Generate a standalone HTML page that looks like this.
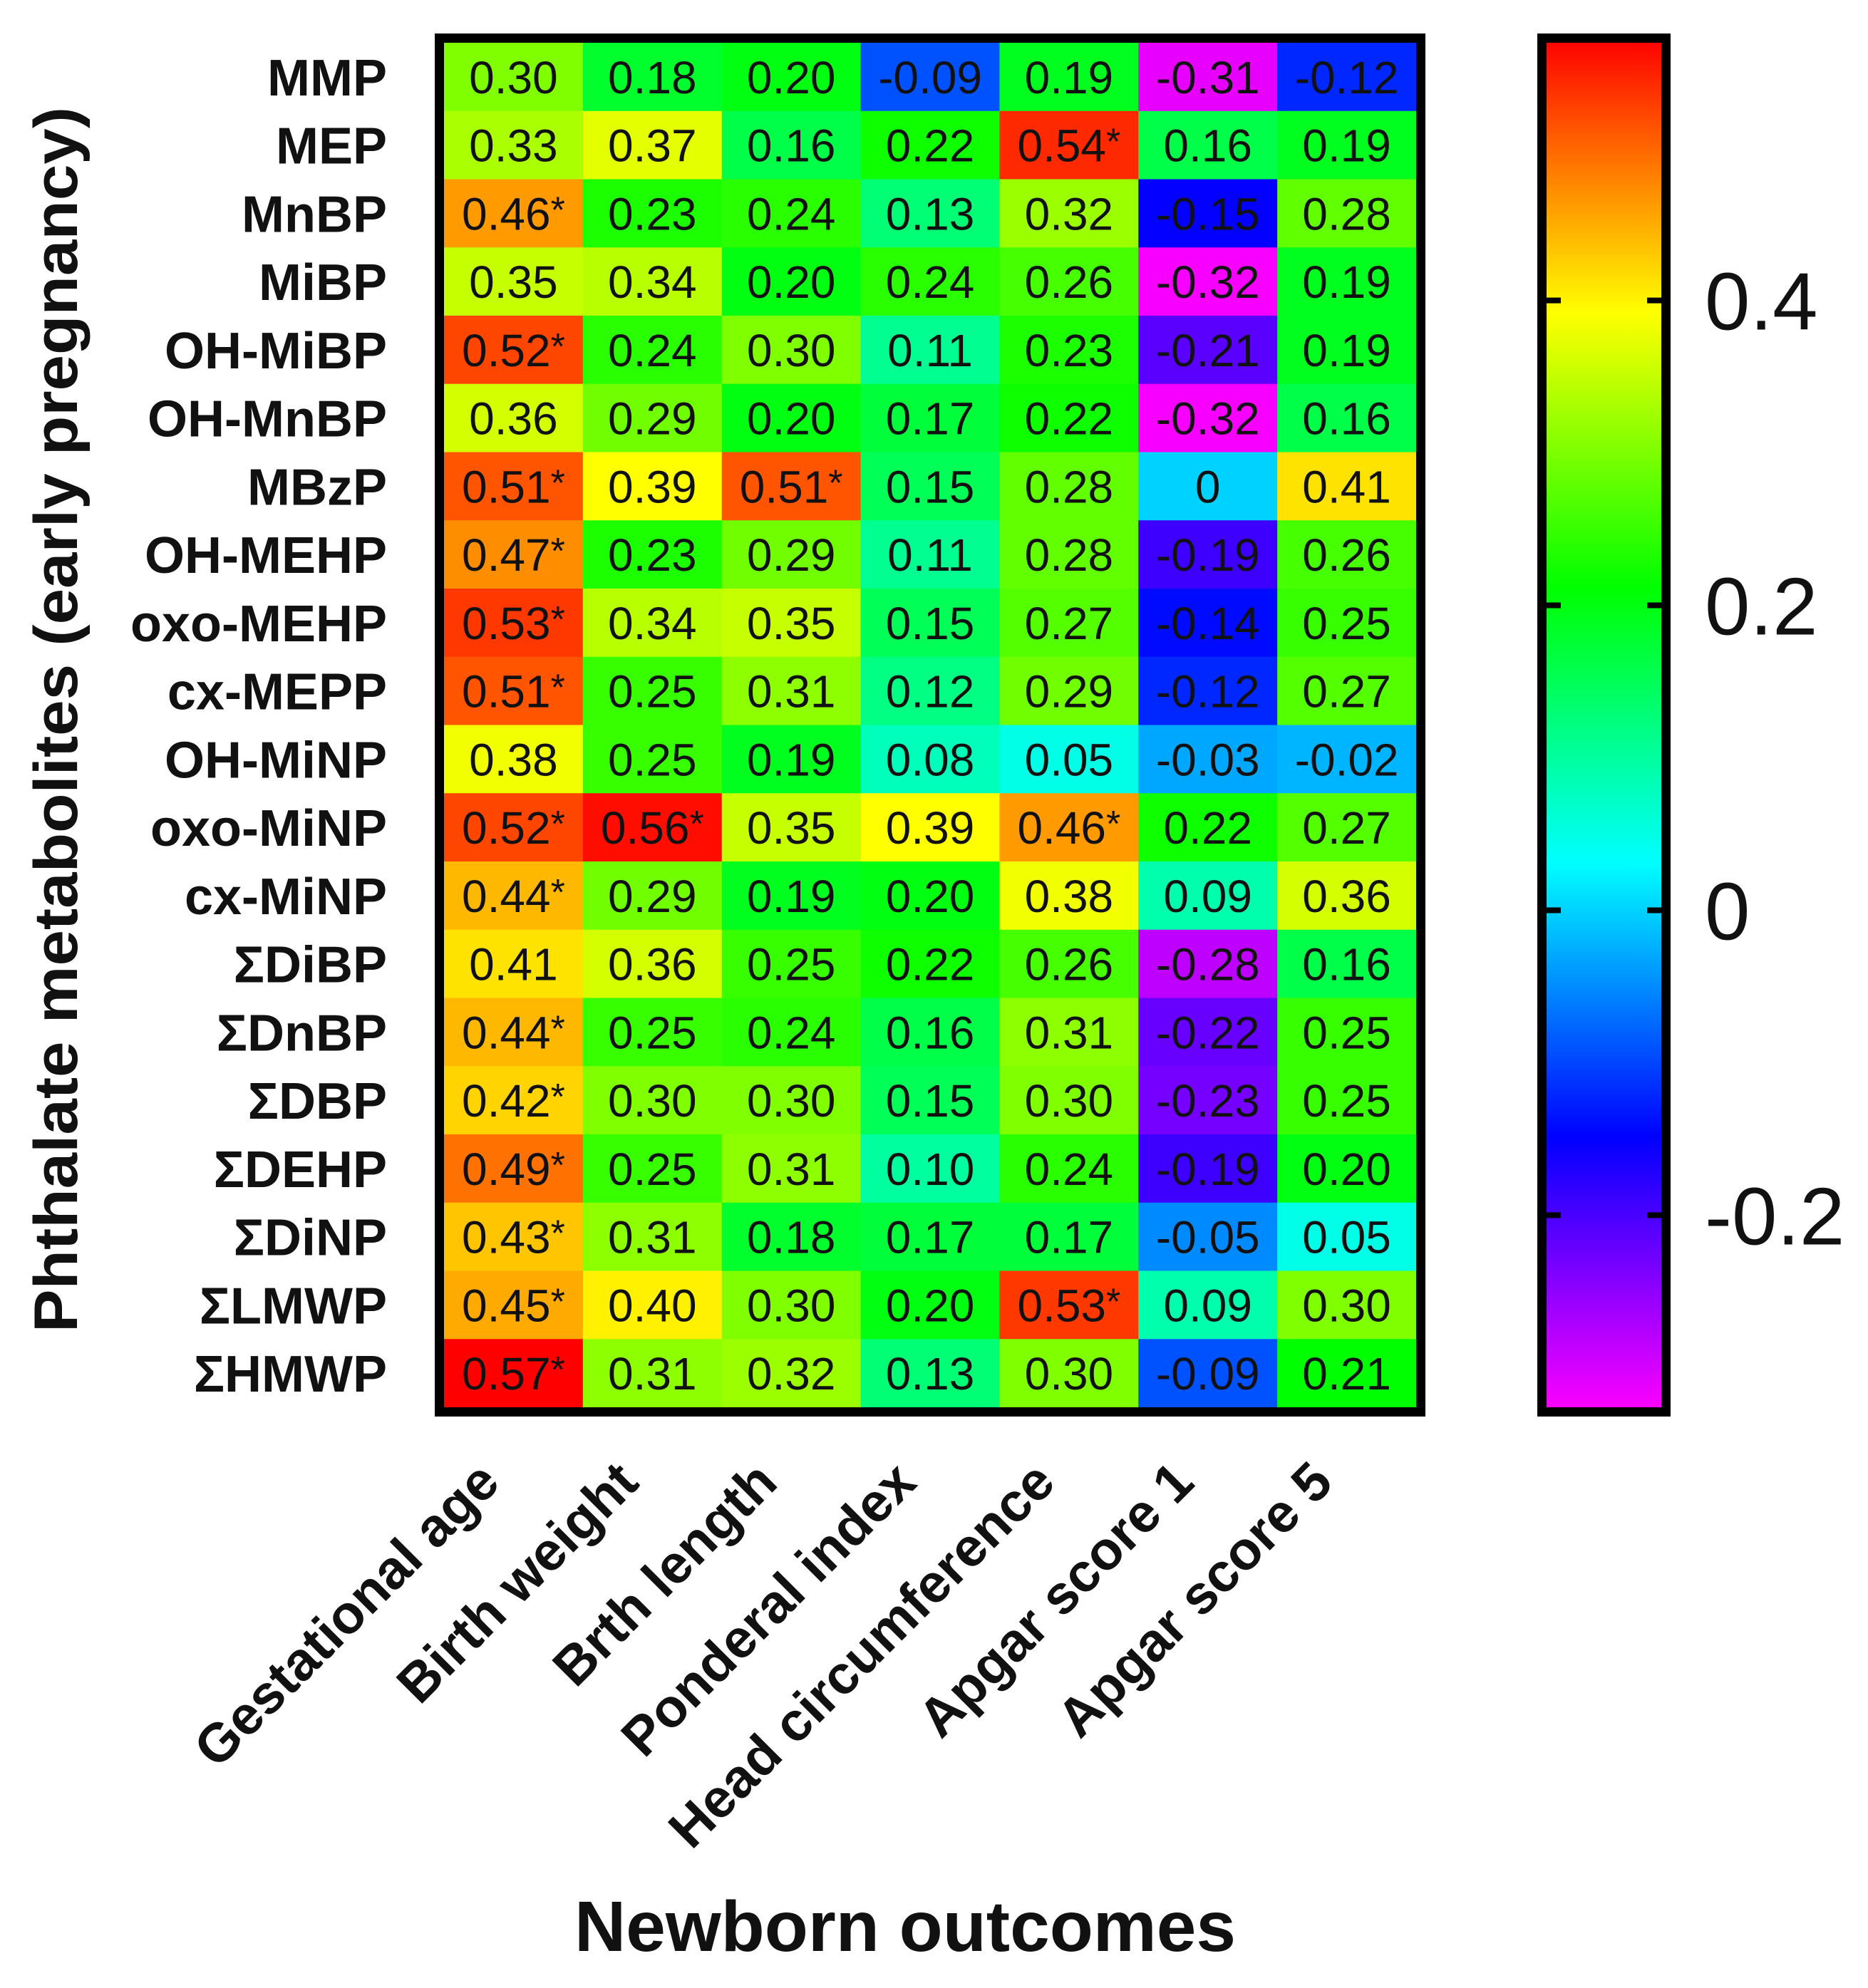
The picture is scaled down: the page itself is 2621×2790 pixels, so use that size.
<!DOCTYPE html>
<html><head><meta charset="utf-8"><style>
html,body{margin:0;padding:0;background:#fff;}
svg{display:block;font-family:"Liberation Sans",Arial,sans-serif;}
</style></head><body>
<svg id="chart" width="2621" height="2790" viewBox="0 0 2621 2790" xmlns="http://www.w3.org/2000/svg">
<g id="cells"></g>
<g id="rowlabels"></g>
<g id="collabels"></g>
<rect x="616.5" y="53.5" width="1377" height="1928" fill="none" stroke="#000" stroke-width="13"/>
<defs><linearGradient id="cbg" x1="0" y1="1" x2="0" y2="0"></linearGradient></defs>
<rect x="2163.5" y="53.5" width="174" height="1928" fill="url(#cbg)" stroke="#000" stroke-width="13"/>
<g id="cbticks"></g>
<text transform="translate(108,1010) rotate(-90)" text-anchor="middle" font-size="86" font-weight="bold" fill="#111" textLength="1720" lengthAdjust="spacingAndGlyphs">Phthalate metabolites (early pregnancy)</text>
<text x="1270" y="2738" text-anchor="middle" font-size="100" font-weight="bold" fill="#111">Newborn outcomes</text>
</svg>
<script>
const rows = ["MMP","MEP","MnBP","MiBP","OH-MiBP","OH-MnBP","MBzP","OH-MEHP","oxo-MEHP","cx-MEPP","OH-MiNP","oxo-MiNP","cx-MiNP","ΣDiBP","ΣDnBP","ΣDBP","ΣDEHP","ΣDiNP","ΣLMWP","ΣHMWP"];
const cols = ["Gestational age","Birth weight","Brth length","Ponderal index","Head circumference","Apgar score 1","Apgar score 5"];
const values = [
[0.30,0.18,0.20,-0.09,0.19,-0.31,-0.12],
[0.33,0.37,0.16,0.22,0.54,0.16,0.19],
[0.46,0.23,0.24,0.13,0.32,-0.15,0.28],
[0.35,0.34,0.20,0.24,0.26,-0.32,0.19],
[0.52,0.24,0.30,0.11,0.23,-0.21,0.19],
[0.36,0.29,0.20,0.17,0.22,-0.32,0.16],
[0.51,0.39,0.51,0.15,0.28,0,0.41],
[0.47,0.23,0.29,0.11,0.28,-0.19,0.26],
[0.53,0.34,0.35,0.15,0.27,-0.14,0.25],
[0.51,0.25,0.31,0.12,0.29,-0.12,0.27],
[0.38,0.25,0.19,0.08,0.05,-0.03,-0.02],
[0.52,0.56,0.35,0.39,0.46,0.22,0.27],
[0.44,0.29,0.19,0.20,0.38,0.09,0.36],
[0.41,0.36,0.25,0.22,0.26,-0.28,0.16],
[0.44,0.25,0.24,0.16,0.31,-0.22,0.25],
[0.42,0.30,0.30,0.15,0.30,-0.23,0.25],
[0.49,0.25,0.31,0.10,0.24,-0.19,0.20],
[0.43,0.31,0.18,0.17,0.17,-0.05,0.05],
[0.45,0.40,0.30,0.20,0.53,0.09,0.30],
[0.57,0.31,0.32,0.13,0.30,-0.09,0.21]];
const significant = [
[0,0,0,0,0,0,0],[0,0,0,0,1,0,0],[1,0,0,0,0,0,0],[0,0,0,0,0,0,0],[1,0,0,0,0,0,0],
[0,0,0,0,0,0,0],[1,0,1,0,0,0,0],[1,0,0,0,0,0,0],[1,0,0,0,0,0,0],[1,0,0,0,0,0,0],
[0,0,0,0,0,0,0],[1,1,0,0,1,0,0],[1,0,0,0,0,0,0],[0,0,0,0,0,0,0],[1,0,0,0,0,0,0],
[1,0,0,0,0,0,0],[1,0,0,0,0,0,0],[1,0,0,0,0,0,0],[1,0,0,0,1,0,0],[1,0,0,0,0,0,0]];
const tickValues = [0.4,0.2,0,-0.2];
const tickLabels = ["0.4","0.2","0","-0.2"];
const vMin = -0.326, vMax = 0.569;

const NS="http://www.w3.org/2000/svg";
const X0=623, X1=1987, Y0=60, Y1=1975;
const cw=(X1-X0)/cols.length, ch=(Y1-Y0)/rows.length;
function xPos(i){return X0+i*cw;}
function yPos(j){return Y0+j*ch;}
function cbY(v){return Y1-(v-vMin)/(vMax-vMin)*(Y1-Y0);}
function color(v){let f=(v-vMin)/(vMax-vMin);f=Math.max(0,Math.min(1,f));return "hsl("+(300-300*f).toFixed(1)+",100%,50%)";}
function fmt(v){return v===0?"0":v.toFixed(2);}
function mk(t,a){const e=document.createElementNS(NS,t);for(const k in a)e.setAttribute(k,a[k]);return e;}

const gC=document.getElementById('cells');
rows.forEach((r,j)=>{cols.forEach((c,i)=>{
  const v=values[j][i];
  const rect=mk('rect',{x:xPos(i),y:yPos(j),width:cw+0.6,height:ch+0.6,fill:color(v)});
  
  
  gC.appendChild(rect);
  const t=mk('text',{x:xPos(i)+cw/2,y:yPos(j)+ch/2+23,'text-anchor':'middle','font-size':64,fill:'#111'});
  t.textContent=fmt(v);
  if(significant[j][i]){const s=mk('tspan',{'font-size':52,dy:-10});s.textContent='*';t.appendChild(s);}
  
  
  gC.appendChild(t);
});});

const gR=document.getElementById('rowlabels');
rows.forEach((r,j)=>{
  const t=mk('text',{x:543,y:yPos(j)+ch/2+26,'text-anchor':'end','font-size':72,'font-weight':'bold',fill:'#111'});
  t.textContent=r;
  
  
  gR.appendChild(t);
});

const gL=document.getElementById('collabels');
cols.forEach((c,i)=>{
  const x=xPos(i)+cw/2-16, y=2084;
  const t=mk('text',{transform:'translate('+x+','+y+') rotate(-45)','text-anchor':'end','font-size':76,'font-weight':'bold',fill:'#111'});
  t.textContent=c;
  
  
  gL.appendChild(t);
});

const grad=document.getElementById('cbg');
for(let k=0;k<=20;k++){const f=k/20;const v=vMin+f*(vMax-vMin);grad.appendChild(mk('stop',{offset:f,'stop-color':color(v)}));}

const gT=document.getElementById('cbticks');
tickValues.forEach((v,k)=>{
  const y=cbY(v);
  const l1=mk('line',{x1:2157,x2:2190,y1:y,y2:y,stroke:'#000','stroke-width':8});
  
  
  gT.appendChild(l1);
  const l2=mk('line',{x1:2311,x2:2344,y1:y,y2:y,stroke:'#000','stroke-width':8});
  
  
  gT.appendChild(l2);
  const t=mk('text',{x:2392,y:y+41,'font-size':114,fill:'#111'});
  t.textContent=tickLabels[k];
  
  
  gT.appendChild(t);
});
</script>
</body></html>
